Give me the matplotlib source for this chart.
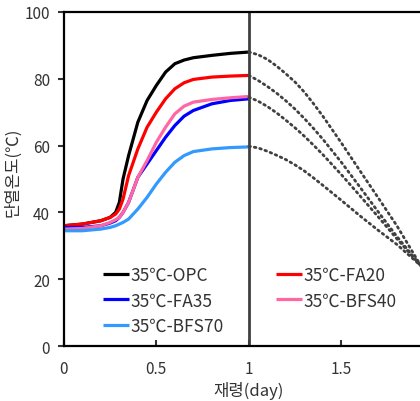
import matplotlib
matplotlib.use("Agg")
import matplotlib.pyplot as plt

plt.rcParams['font.family'] = ['Noto Sans CJK KR', 'DejaVu Sans']

# rising (adiabatic) curves
x_rise = [0, 0.1, 0.2, 0.25, 0.28, 0.3, 0.32, 0.35, 0.4, 0.45, 0.5, 0.55, 0.6, 0.65, 0.7, 0.8, 0.9, 1.0]
opc   = [36, 36.5, 37.5, 38.5, 40, 43, 50, 57, 67, 73.5, 78, 82, 84.5, 85.6, 86.3, 87, 87.6, 88]
fa20  = [36, 36.5, 37.5, 38.5, 39.5, 41, 44, 51, 59, 65.5, 70, 74, 77, 78.8, 79.8, 80.5, 80.8, 81]
fa35  = [35.5, 35.5, 36, 36.8, 37.5, 38.5, 40, 43, 50.5, 54.5, 58.5, 62.5, 66, 68.8, 70.5, 72.5, 73.5, 74]
bfs40 = [35, 35.2, 36, 37, 37.8, 38.5, 40, 43, 50.5, 55.5, 61, 65.5, 69.5, 71.8, 73, 73.8, 74.3, 74.7]
bfs70 = [34.5, 34.5, 35, 35.5, 36, 36.5, 37, 38, 41, 44.5, 48.5, 52, 55, 57, 58.2, 59, 59.4, 59.6]

# cooling (dotted) curves
x_cool = [1.0, 1.05, 1.1, 1.15, 1.2, 1.25, 1.3, 1.35, 1.4, 1.5, 1.6, 1.7, 1.8, 1.93]
cool_opc   = [88, 87.2, 85.8, 83.8, 81.5, 79, 76, 72.5, 68.8, 60.8, 52.5, 44.3, 36, 24]
cool_fa20  = [81, 79.5, 77.7, 75.7, 73.4, 70.9, 68.1, 65.1, 61.9, 55, 47.6, 40.1, 32.8, 24]
cool_bfs40 = [74.5, 73.3, 71.7, 69.8, 67.6, 65.3, 62.8, 60.1, 57.3, 51.3, 45, 38.6, 32.1, 24]
cool_bfs70 = [59.8, 59.3, 58.3, 57.1, 55.8, 54.2, 52.4, 50.3, 48.1, 43.6, 39, 34.6, 30.4, 24]

labels = ['35℃-OPC', '35℃-FA20', '35℃-FA35', '35℃-BFS40', '35℃-BFS70']
colors = ['#000000', '#ff0000', '#0000ff', '#ff66a3', '#3399ff']
xticks = [0, 0.5, 1, 1.5]
xticklabels = ['0', '0.5', '1', '1.5']
yticks = [0, 20, 40, 60, 80, 100]

fig = plt.figure(figsize=(4.2, 4.02), dpi=100)
ax = fig.add_axes([0.152, 0.1368, 0.881, 0.831])

series = [opc, fa20, fa35, bfs40, bfs70]
handles = []
for y, c, lab in zip(series, colors, labels):
    h, = ax.plot(x_rise, y, color=c, lw=2.3, label=lab, solid_capstyle='butt')
    handles.append(h)

for yc in [cool_opc, cool_fa20, cool_bfs40, cool_bfs70]:
    ax.plot(x_cool, yc, color='#404040', lw=2.0, linestyle=(0, (0.6, 1.4)),
            dash_capstyle='round')

ax.axvline(1.0, color='#404040', lw=2.0)

ax.set_xlim(0, 2)
ax.set_ylim(0, 100)
ax.set_xticks(xticks)
ax.set_xticklabels(xticklabels)
ax.set_yticks(yticks)
ax.tick_params(axis='x', direction='in', length=4, width=1.5, labelsize=11,
               colors='#333333', pad=10)
ax.tick_params(axis='y', direction='out', length=4, width=1.5, labelsize=11,
               colors='#333333', pad=6)
for s in ax.spines.values():
    s.set_linewidth(1.6)
ax.spines['right'].set_visible(False)

ax.set_xlabel('재령(day)', fontsize=12, color='#333333')
ax.xaxis.set_label_coords(0.5, -0.105)
ax.set_ylabel('단열온도(℃)', fontsize=12, color='#333333')
ax.yaxis.set_label_coords(-0.115, 0.524)

order = [0, 2, 4, 1, 3]
leg = ax.legend([handles[i] for i in order], [labels[i] for i in order],
                ncol=2, loc='upper left', bbox_to_anchor=(0.105, 0.239),
                frameon=False, fontsize=12.5, handlelength=1.5, handletextpad=0.1,
                columnspacing=3.0, labelspacing=0.42, borderpad=0, borderaxespad=0)
for t in leg.get_texts():
    t.set_color('#333333')

fig.savefig('out.png', dpi=100)
